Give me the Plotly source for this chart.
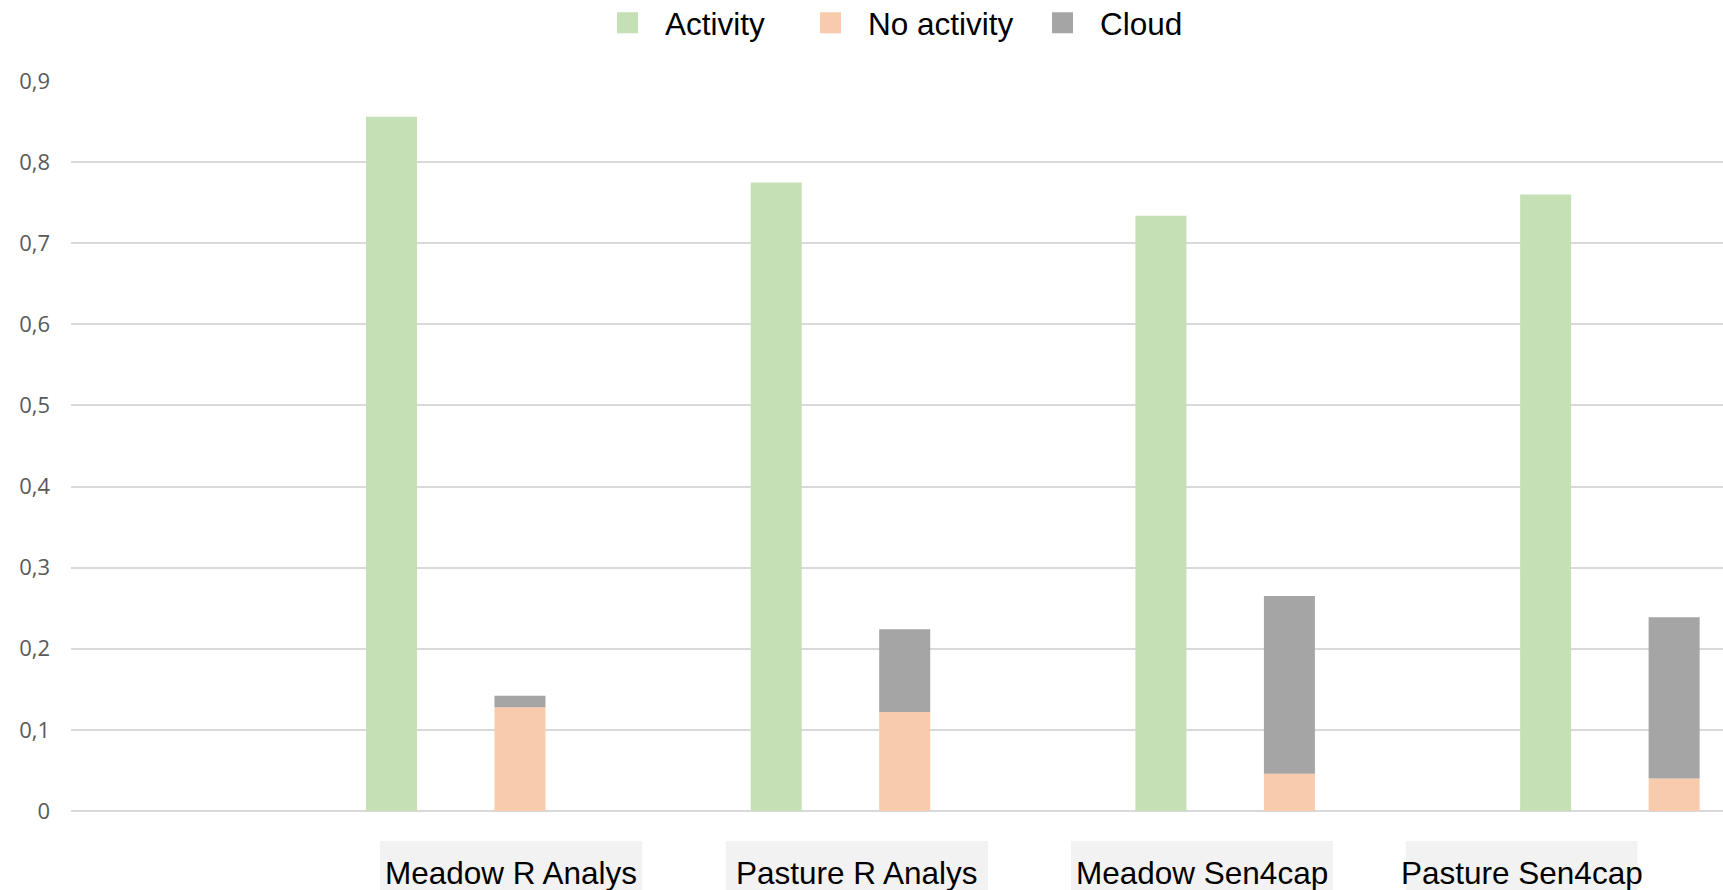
import plotly.graph_objects as go

# ---- data ----
categories = ["Meadow R Analys", "Pasture R Analys", "Meadow Sen4cap", "Pasture Sen4cap"]
activity = [0.856, 0.775, 0.734, 0.760]
no_activity = [0.128, 0.122, 0.046, 0.040]
cloud = [0.014, 0.102, 0.219, 0.199]
series_names = ["Activity", "No activity", "Cloud"]
y_ticks = [0, 0.1, 0.2, 0.3, 0.4, 0.5, 0.6, 0.7, 0.8, 0.9]

# ---- style ----
GREEN = "#c5e0b4"
PEACH = "#f8cbad"
GRAY = "#a5a5a5"
colors = [GREEN, PEACH, GRAY]
W, H = 1723, 890
ML, MR, MT, MB = 71, 0, 81, 79
PW = W - ML - MR
PH = H - MT - MB


def px_to_paper_x(px):
    return (px - ML) / PW


def px_to_paper_y(py):
    return (H - MB - py) / PH


fig = go.Figure()
fig.add_trace(go.Bar(x=categories, y=activity, name=series_names[0], offsetgroup="a",
                     marker=dict(color=GREEN, line=dict(width=0)), showlegend=False))
fig.add_trace(go.Bar(x=categories, y=no_activity, name=series_names[1], offsetgroup="b",
                     marker=dict(color=PEACH, line=dict(width=0)), showlegend=False))
fig.add_trace(go.Bar(x=categories, y=cloud, base=no_activity, name=series_names[2], offsetgroup="b",
                     marker=dict(color=GRAY, line=dict(width=0)), showlegend=False))

# legend entries, one legend per entry so each can be placed like the reference
legend_ids = ["legend", "legend2", "legend3"]
legend_starts = [590, 793, 1025]  # item start in page pixels
for nm, c, lid in zip(series_names, colors, legend_ids):
    fig.add_trace(go.Scatter(x=[None], y=[None], mode="markers", name=nm, legend=lid,
                             marker=dict(symbol="square", size=16, color=c,
                                         line=dict(color=c, width=5))))

legend_font = dict(family="Liberation Sans, Arial", size=31.5, color="#000000")
legends = {}
for lid, xs in zip(legend_ids, legend_starts):
    legends[lid] = dict(orientation="h", xref="paper", yref="container",
                        x=px_to_paper_x(xs), xanchor="left",
                        y=1 - 22.8 / H, yanchor="middle",
                        itemwidth=65, font=legend_font, bgcolor="rgba(0,0,0,0)",
                        borderwidth=0)

# category label boxes (decorative backgrounds) and texts
label_boxes = [(380, 642), (726, 988), (1071, 1333), (1406, 1637.5)]
shapes = []
annotations = []
for cat, (x0, x1) in zip(categories, label_boxes):
    shapes.append(dict(type="rect", xref="paper", yref="paper",
                       x0=px_to_paper_x(x0), x1=px_to_paper_x(x1),
                       y0=px_to_paper_y(841), y1=px_to_paper_y(905),
                       fillcolor="#f2f2f2", line=dict(width=0), layer="below"))
    annotations.append(dict(text=cat, xref="paper", yref="paper",
                            x=px_to_paper_x((x0 + x1) / 2), y=px_to_paper_y(873),
                            xanchor="center", yanchor="middle", showarrow=False,
                            font=dict(family="Liberation Sans, Arial", size=31.5, color="#000000")))

fig.update_layout(
    width=W, height=H,
    margin=dict(l=ML, r=MR, t=MT, b=MB, pad=0),
    paper_bgcolor="white", plot_bgcolor="white",
    barmode="group", bargap=0.332, bargroupgap=0.603,
    separators=", ",
    showlegend=True,
    xaxis=dict(type="category", range=[-1.0, 3.294], showticklabels=False, showgrid=False,
               zeroline=False, showline=False, ticks="", fixedrange=True),
    yaxis=dict(range=[0, 0.9], tickvals=y_ticks, showgrid=True, gridcolor="#d9d9d9", gridwidth=1.5,
               zeroline=True, zerolinecolor="#d9d9d9", zerolinewidth=1.5, showline=False,
               ticks="", ticklabelstandoff=20,
               tickfont=dict(family="Open Sans", size=22, color="#595959")),
    shapes=shapes, annotations=annotations,
    **legends,
)

fig.write_html("out.html", config={"displayModeBar": False},
               post_script="document.body.style.margin='0';")
